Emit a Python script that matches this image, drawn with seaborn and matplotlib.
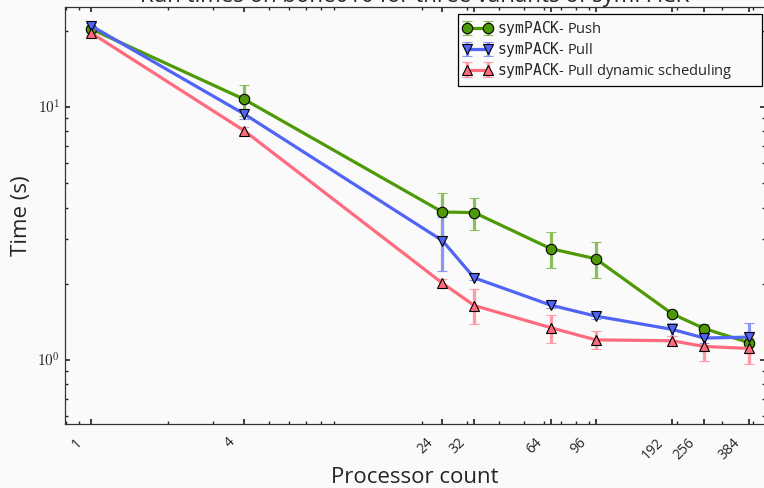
import numpy as np
import pandas as pd
import seaborn as sns
import matplotlib.pyplot as plt
from matplotlib.ticker import FixedLocator, LogLocator, NullFormatter
import matplotlib.transforms as mtransforms

# Run times (s)
procs = [1, 4, 24, 32, 64, 96, 192, 256, 384]
push = [20.3, 10.7, 3.84, 3.82, 2.75, 2.51, 1.52, 1.33, 1.17]
push_err = [0.4, 1.5, 0.74, 0.56, 0.45, 0.41, 0.04, 0.06, 0.05]
pull = [20.9, 9.36, 2.96, 2.11, 1.645, 1.49, 1.32, 1.22, 1.23]
pull_err = [0.5, 0.45, 0.71, 0.05, 0.04, 0.04, 0.08, 0.05, 0.17]
dyn = [19.6, 8.04, 2.01, 1.64, 1.34, 1.20, 1.19, 1.13, 1.11]
dyn_err = [0.4, 0.25, 0.08, 0.26, 0.17, 0.10, 0.05, 0.14, 0.15]
tick_labels = [str(p) for p in procs]

series = [
    (r"$\mathtt{symPACK}$- Push", push, push_err, "o", "#4e9a06", "#8cbf5c"),
    (r"$\mathtt{symPACK}$- Pull", pull, pull_err, "v", "#5064f5", "#8a97f7"),
    (r"$\mathtt{symPACK}$- Pull dynamic scheduling", dyn, dyn_err, "^", "#ff6b7d", "#ff9ba7"),
]

sns.set_theme(style="ticks", rc={
    "figure.facecolor": "#fafafa",
    "axes.facecolor": "#fafafa",
    "axes.edgecolor": "#333333",
    "axes.linewidth": 0.9,
    "xtick.direction": "in",
    "ytick.direction": "in",
    "xtick.top": True,
    "ytick.right": True,
    "xtick.major.size": 3.5,
    "ytick.major.size": 3.5,
    "xtick.minor.size": 2,
    "ytick.minor.size": 2,
    "mathtext.fontset": "cm",
})
plt.rcParams["font.family"] = ["Open Sans", "DejaVu Sans"]

fig = plt.figure(figsize=(7.64, 4.88), dpi=100)
ax = fig.add_axes([0.0851, 0.1311, 0.9162, 0.8546])

for label, vals, errs, mk, col, ecol in series:
    ax.errorbar(procs, vals, yerr=errs, label=label, color=col, ecolor=ecol,
                marker=mk, markersize=7.5, markeredgecolor="black",
                markeredgewidth=0.8, linewidth=2.3, elinewidth=2.3,
                capsize=3.5, capthick=1.8)

ax.set_xscale("log")
ax.set_yscale("log")
ax.set_xlim(0.79, 444)
ax.set_ylim(0.558, 24.8)

ax.xaxis.set_major_locator(FixedLocator(procs))
ax.set_xticklabels(tick_labels, rotation=45, ha="right", fontsize=10)
ax.xaxis.set_minor_locator(LogLocator(base=10, subs=np.arange(2, 10)))
ax.xaxis.set_minor_formatter(NullFormatter())
ax.tick_params(axis="x", which="major", pad=8)
offset = mtransforms.ScaledTranslation(-6 / 100, 0, fig.dpi_scale_trans)
for t in ax.get_xticklabels():
    t.set_transform(t.get_transform() + offset)

ax.set_yticks([1, 10], labels=[r"$10^{0}$", r"$10^{1}$"])
ax.yaxis.set_minor_locator(LogLocator(base=10, subs=np.arange(2, 10)))
ax.yaxis.set_minor_formatter(NullFormatter())
ax.tick_params(axis="y", labelsize=11)

ax.set_xlabel("Processor count", fontsize=16, labelpad=3)
ax.set_ylabel("Time (s)", fontsize=16)
ax.set_title("Run times on bone010 for three variants of symPACK", fontsize=16, pad=2)

leg = ax.legend(loc="upper left", bbox_to_anchor=(0.561, 0.0, 0.4346, 0.983),
                mode="expand", borderaxespad=0, fontsize=10.5, frameon=True,
                fancybox=False, edgecolor="black", framealpha=1,
                labelspacing=0.12, borderpad=0.35, handlelength=2.0,
                handletextpad=0.35, numpoints=2)
leg.get_frame().set_linewidth(0.9)
for t in leg.get_texts():
    t.set_math_fontfamily("dejavusans")

fig.savefig("out.png", dpi=100, facecolor=fig.get_facecolor())
